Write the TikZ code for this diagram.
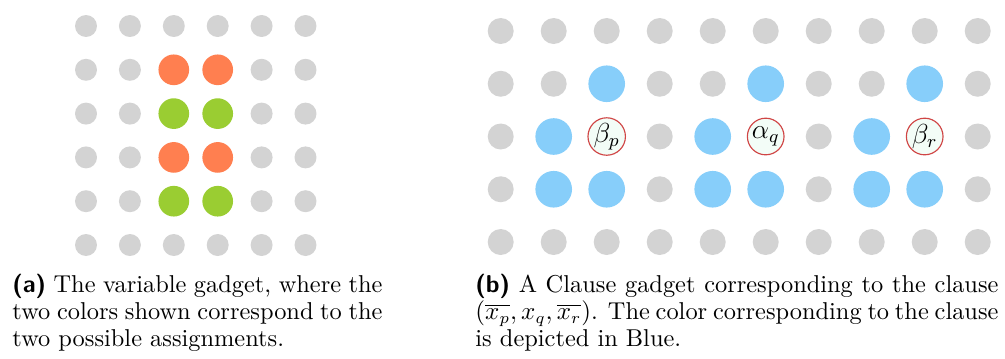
\documentclass[tikz,border=0pt]{standalone}
\usepackage{amsmath}
\definecolor{dotgray}{HTML}{D3D3D3}
\definecolor{dotorange}{HTML}{FF7F50}
\definecolor{dotgreen}{HTML}{9ACD32}
\definecolor{dotblue}{HTML}{87CEFA}
\definecolor{labfill}{HTML}{F3FDF7}
\definecolor{labdraw}{HTML}{D04545}
\begin{document}
\begin{tikzpicture}[x=0.4367pt,y=-0.4367pt,
  ldot/.style={circle,fill=dotgray,inner sep=0pt,minimum size=9.6pt},
  lbig/.style={circle,inner sep=0pt,minimum size=13.4pt},
  rdot/.style={circle,fill=dotgray,inner sep=0pt,minimum size=11.35pt},
  rblue/.style={circle,fill=dotblue,inner sep=0pt,minimum size=16pt},
  lab/.style={circle,fill=labfill,draw=labdraw,line width=0.5pt,inner sep=0pt,minimum size=16pt,font=\large},
  captext/.style={inner sep=0pt,align=justify,anchor=base west,font=\fontsize{10.65}{12}\selectfont}]
\useasboundingbox (0,0) rectangle (1005,358);
% left grid
\foreach \i in {0,5}{\foreach \j in {0,...,5}{
  \node[ldot] (l-\i-\j) at ({86+43.9*\j},{26+43.8*\i}) {};}}
\foreach \i in {1,...,4}{\foreach \j in {0,1,4,5}{
  \node[ldot] (l-\i-\j) at ({86+43.9*\j},{26+43.8*\i}) {};}}
\foreach \i in {1,3}{\foreach \j in {2,3}{
  \node[lbig,fill=dotorange] (l-\i-\j) at ({86+43.9*\j},{26+43.8*\i}) {};}}
\foreach \i in {2,4}{\foreach \j in {2,3}{
  \node[lbig,fill=dotgreen] (l-\i-\j) at ({86+43.9*\j},{26+43.8*\i}) {};}}
% right grid
\foreach \i in {0,4}{\foreach \j in {0,...,9}{
  \node[rdot] (r-\i-\j) at ({500.7+53*\j},{31+52.75*\i}) {};}}
\foreach \j in {0,1,3,4,6,7,9}{
  \node[rdot] (r-1-\j) at ({500.7+53*\j},{31+52.75}) {};}
\foreach \j in {2,5,8}{
  \node[rblue] (r-1-\j) at ({500.7+53*\j},{31+52.75}) {};}
\foreach \j in {0,3,6,9}{
  \node[rdot] (r-2-\j) at ({500.7+53*\j},{31+52.75*2}) {};
  \node[rdot] (r-3-\j) at ({500.7+53*\j},{31+52.75*3}) {};}
\foreach \j in {1,4,7}{
  \node[rblue] (r-2-\j) at ({500.7+53*\j},{31+52.75*2}) {};}
\foreach \j in {1,2,4,5,7,8}{
  \node[rblue] (r-3-\j) at ({500.7+53*\j},{31+52.75*3}) {};}
\node[lab] (r-2-2) at ({500.7+53*2},{31+52.75*2}) {$\beta_p$};
\node[lab] (r-2-5) at ({500.7+53*5},{31+52.75*2}) {$\alpha_q$};
\node[lab] (r-2-8) at ({500.7+53*8},{31+52.75*2}) {$\beta_r$};
% captions
\node[captext,text width=161.6pt] (capa) at (12,292)
  {\textsf{\bfseries (a)} The variable gadget, where the two colors shown correspond to the two possible assignments.};
\node[captext,text width=228.4pt] (capb) at (475,292)
  {\textsf{\bfseries (b)} A Clause gadget corresponding to the clause $(\overline{x_p}, x_q, \overline{x_r})$. The color corresponding to the clause\linebreak{} is depicted in Blue.};
\end{tikzpicture}
\end{document}
